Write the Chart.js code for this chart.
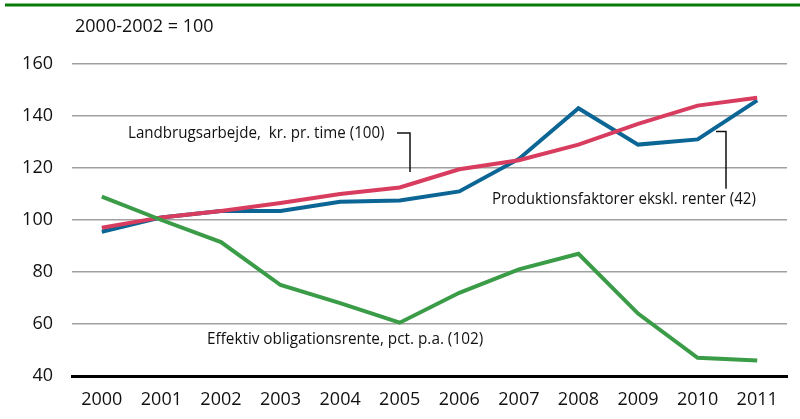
<!DOCTYPE html>
<html>
<head>
<meta charset="utf-8">
<script src="https://cdn.jsdelivr.net/npm/chart.js@4"></script>
<style>
  html, body { margin: 0; padding: 0; background: #fff; }
  #wrap { width: 800px; height: 419px; position: relative; }
</style>
</head>
<body>
<div id="wrap"><canvas id="chart" width="800" height="419"></canvas></div>
<script>
const years = ['2000', '2001', '2002', '2003', '2004', '2005', '2006', '2007', '2008', '2009', '2010', '2011'];
const landbrug = [97, 101, 103.5, 106.5, 110, 112.5, 119.5, 123, 129, 137, 144, 147];
const produktion = [95.5, 101, 103.5, 103.5, 107, 107.5, 111, 123.5, 143, 129, 131, 146];
const rente = [109, 100, 91.5, 75, 68, 60.5, 72, 81, 87, 64, 47, 46];
const yTicks = [40, 60, 80, 100, 120, 140, 160];

const FONT = "'Open Sans', sans-serif";

// narrow-looking text: draw squeezed horizontally
function narrowText(c, str, x, y, size, sx) {
  c.save();
  c.translate(x, y);
  c.scale(sx, 1);
  c.font = size + 'px ' + FONT;
  c.fillText(str, 0, 0);
  c.restore();
}

// labels + leader lines, placed in data units
const notes = {
  id: 'notes',
  afterDraw(chart) {
    const c = chart.ctx, y = chart.scales.y;
    c.save();
    // green rule on top
    c.strokeStyle = '#0a7a0a';
    c.lineWidth = 3;
    c.beginPath(); c.moveTo(5, 5); c.lineTo(800, 5); c.stroke();

    c.fillStyle = '#111';
    c.textBaseline = 'middle';
    narrowText(c, '2000-2002 = 100', 75, 27, 18, 1);
    narrowText(c, 'Landbrugsarbejde,  kr. pr. time (100)', 128, y.getPixelForValue(133.5), 17, 0.89);
    narrowText(c, 'Produktionsfaktorer ekskl. renter (42)', 492, y.getPixelForValue(108), 17, 0.89);
    narrowText(c, 'Effektiv obligationsrente, pct. p.a. (102)', 207, y.getPixelForValue(54), 17, 0.9);

    c.strokeStyle = '#111';
    c.lineWidth = 1.5;
    c.beginPath();
    c.moveTo(397, y.getPixelForValue(133.5));
    c.lineTo(410, y.getPixelForValue(133.5));
    c.lineTo(410, y.getPixelForValue(118.5));
    c.moveTo(716, y.getPixelForValue(134));
    c.lineTo(726, y.getPixelForValue(134));
    c.lineTo(726, y.getPixelForValue(112));
    c.stroke();
    c.restore();
  }
};

const line = (data, color) => ({
  data: data,
  borderColor: color,
  borderWidth: 4,
  pointRadius: 0,
  tension: 0,
  fill: false
});

new Chart(document.getElementById('chart'), {
  type: 'line',
  data: {
    labels: years,
    datasets: [
      line(rente, '#3b9c48'),
      line(landbrug, '#d83c5e'),
      line(produktion, '#0b6595')
    ]
  },
  options: {
    responsive: false,
    animation: false,
    layout: { padding: { top: 64, right: 13, left: 0, bottom: 0 } },
    plugins: { legend: { display: false }, tooltip: { enabled: false } },
    scales: {
      x: {
        offset: true,
        grid: { display: false, drawTicks: false },
        border: { display: true, color: '#000', width: 3 },
        ticks: { color: '#111', font: { family: FONT, size: 18 }, padding: 13, maxRotation: 0 },
        afterFit: s => { s.height = 43; }
      },
      y: {
        min: 40,
        max: 160,
        afterBuildTicks: s => { s.ticks = yTicks.map(v => ({ value: v })); },
        grid: {
          drawTicks: false,
          color: ctx => ctx.tick && ctx.tick.value === 40 ? 'rgba(0,0,0,0)' : '#a0a0a0',
          lineWidth: 1.5
        },
        border: { display: false },
        ticks: { color: '#111', font: { family: FONT, size: 18 }, padding: 19 },
        afterFit: s => { s.width = 72; }
      }
    }
  },
  plugins: [notes]
});
</script>
</body>
</html>
